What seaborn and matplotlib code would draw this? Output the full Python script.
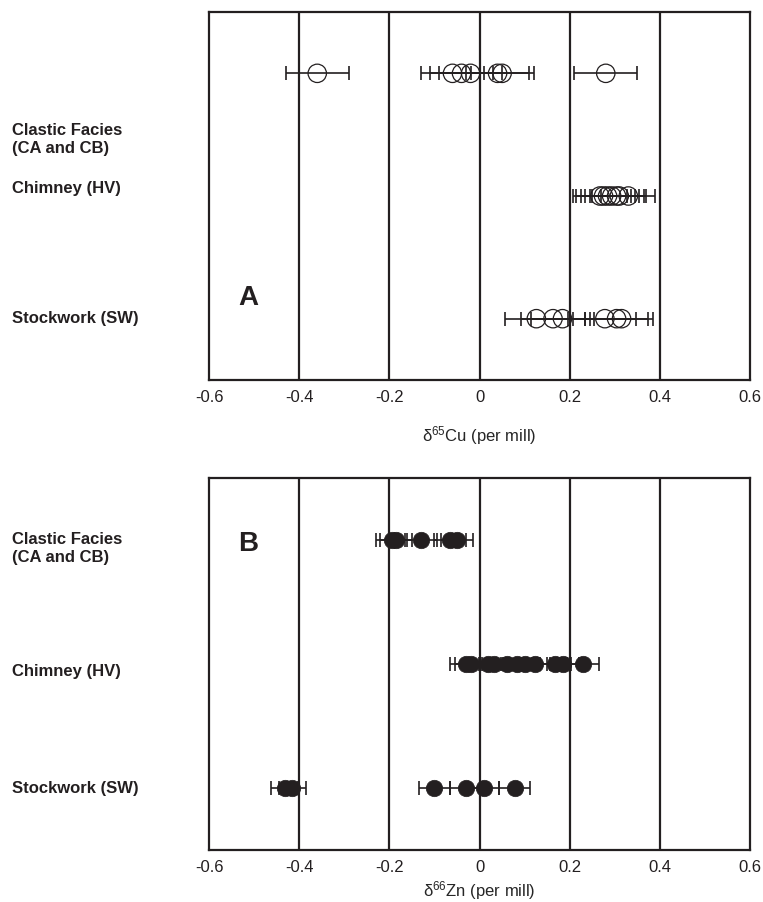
import numpy as np
import pandas as pd
import matplotlib
matplotlib.use("Agg")
import matplotlib.pyplot as plt
import matplotlib.transforms as mtransforms
import seaborn as sns

# rows: 0 = Clastic, 1 = Chimney, 2 = Stockwork
row_names = ["Clastic Facies\n(CA and CB)", "Chimney (HV)", "Stockwork (SW)"]

# panel A: d65Cu
cu_clastic = [-0.36, -0.06, -0.04, -0.02, 0.04, 0.05, 0.28]
cu_clastic_err = [0.07, 0.07, 0.07, 0.07, 0.07, 0.07, 0.07]
cu_chimney = [0.267, 0.275, 0.284, 0.293, 0.304, 0.31, 0.33]
cu_chimney_err = [0.06, 0.06, 0.06, 0.06, 0.06, 0.06, 0.06]
cu_stock = [0.126, 0.163, 0.184, 0.278, 0.304, 0.315]
cu_stock_err = [0.07, 0.07, 0.07, 0.07, 0.07, 0.07]

# panel B: d66Zn
zn_clastic = [-0.195, -0.185, -0.13, -0.065, -0.05]
zn_clastic_err = [0.035, 0.035, 0.035, 0.035, 0.035]
zn_chimney = [-0.03, -0.02, 0.018, 0.033, 0.062, 0.082, 0.10, 0.122, 0.167, 0.185, 0.229]
zn_chimney_err = [0.035] * 11
zn_stock = [-0.432, -0.415, -0.10, -0.031, 0.009, 0.078]
zn_stock_err = [0.03, 0.03, 0.035, 0.035, 0.035, 0.035]

xticks = [-0.6, -0.4, -0.2, 0, 0.2, 0.4, 0.6]
xtick_labels = ["-0.6", "-0.4", "-0.2", "0", "0.2", "0.4", "0.6"]
grid_x = [-0.4, -0.2, 0, 0.2, 0.4]


def make_df(groups):
    rows = []
    for r, (vals, errs) in enumerate(groups):
        for v, e in zip(vals, errs):
            rows.append({"row": r, "value": v, "err": e})
    return pd.DataFrame(rows)


df_cu = make_df([(cu_clastic, cu_clastic_err), (cu_chimney, cu_chimney_err), (cu_stock, cu_stock_err)])
df_zn = make_df([(zn_clastic, zn_clastic_err), (zn_chimney, zn_chimney_err), (zn_stock, zn_stock_err)])

sns.set_style("white")
plt.rcParams['font.family'] = ['Liberation Sans', 'DejaVu Sans']

fig = plt.figure(figsize=(7.63, 9.02), dpi=100)
ax_a = fig.add_axes([0.274, 0.5787, 0.709, 0.408])
ax_b = fig.add_axes([0.274, 0.0576, 0.709, 0.4124])


def draw_panel(ax, df, hollow, xlabel, labelpad, letter, letter_y, label_y):
    for gx in grid_x:
        ax.axvline(gx, color='#231f20', lw=1.6, zorder=1)
    ax.errorbar(df['value'], df['row'], xerr=df['err'], fmt='none', ecolor='#231f20',
                elinewidth=1.2, capsize=5, capthick=1.2, zorder=2)
    if hollow:
        sns.scatterplot(data=df, x='value', y='row', ax=ax, s=175, marker='o',
                        facecolors='none', edgecolor='#231f20', linewidth=0.9, zorder=3)
    else:
        sns.scatterplot(data=df, x='value', y='row', ax=ax, s=140, marker='o',
                        color='#231f20', edgecolor='#231f20', linewidth=0.5, zorder=3)
    ax.set_xlim(-0.6, 0.6)
    ax.set_ylim(2.5, -0.5)
    ax.set_xticks(xticks)
    ax.set_xticklabels(xtick_labels, fontsize=12)
    ax.set_yticks([])
    ax.set_ylabel('')
    ax.set_xlabel(xlabel, fontsize=12, labelpad=labelpad)
    ax.tick_params(axis='x', length=0, pad=7, colors='#231f20')
    for sp in ax.spines.values():
        sp.set_color('#231f20')
        sp.set_linewidth(1.6)
    ax.text(-0.535, letter_y, letter, fontsize=20, fontweight='bold', color='#231f20',
            ha='left', va='center')
    trans = mtransforms.blended_transform_factory(fig.transFigure, ax.transData)
    for name, y in zip(row_names, label_y):
        ax.text(0.0157, y, name, transform=trans, fontsize=12, fontweight='bold',
                color='#231f20', ha='left', va='center', linespacing=1.25)


draw_panel(ax_a, df_cu, True, r'$\mathregular{\delta^{65}}$Cu (per mill)', 14, 'A', 1.835, [0.54, 0.94, 2.0])
draw_panel(ax_b, df_zn, False, r'$\mathregular{\delta^{66}}$Zn (per mill)', 3, 'B', 0.03, [0.07, 1.06, 2.0])

plt.savefig('out.png', dpi=100)
